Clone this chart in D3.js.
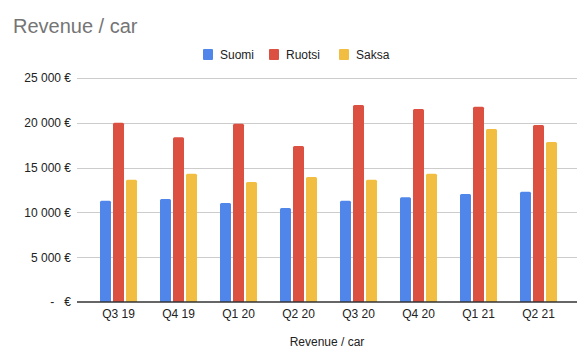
<!DOCTYPE html>
<html><head><meta charset="utf-8">
<script src="https://cdn.jsdelivr.net/npm/d3@7"></script>
<style>
html,body{margin:0;padding:0;background:#fff;}
svg{display:block;font-family:Arial,"Liberation Sans",sans-serif;}
</style></head>
<body><svg id="c" width="584" height="360"></svg>
<script>
const categories = ["Q3 19","Q4 19","Q1 20","Q2 20","Q3 20","Q4 20","Q1 21","Q2 21"];
const seriesNames = ["Suomi","Ruotsi","Saksa"];
const suomi  = [11300, 11500, 11050, 10500, 11300, 11700, 12050, 12300];
const ruotsi = [20000, 18400, 19900, 17400, 22000, 21550, 21800, 19750];
const saksa  = [13650, 14300, 13400, 13950, 13650, 14300, 19300, 17850];
const yTicks = [0, 5000, 10000, 15000, 20000, 25000];
const colors = ["#5086ea","#db5041","#f1be42"];
const title = "Revenue / car";
const xTitle = "Revenue / car";

const series = [suomi, ruotsi, saksa];
const svg = d3.select("#c");
const plotL = 77, plotR = 577, plotT = 78, plotB = 302;

const x = d3.scaleBand().domain(categories).range([88.5, 568.5]).paddingInner(23/60).paddingOuter(23/120);
const xs = d3.scaleBand().domain(seriesNames).range([0, x.bandwidth()]).paddingInner(2/13).paddingOuter(0);
const y = d3.scaleLinear().domain([0, 25000]).range([plotB, plotT]);

// title
svg.append("text").attr("x", 13).attr("y", 33).attr("fill", "#757575")
  .attr("font-size", 20).text(title);

// gridlines + y axis labels
const yAxis = d3.axisLeft(y).tickValues(yTicks).tickSize(0).tickPadding(6)
  .tickFormat(d => d === 0 ? "-\u00a0\u00a0\u00a0€" : d3.format(",")(d).replace(/,/g, "\u00a0") + "\u00a0€");
const ga = svg.append("g").attr("transform", `translate(${plotL},0)`).call(yAxis);
ga.select(".domain").remove();
ga.selectAll("text").attr("font-size", 12).attr("fill", "#222").attr("font-family", "Arial, 'Liberation Sans', sans-serif").attr("x", -6);

svg.append("g").selectAll("line").data(yTicks.filter(d => d > 0)).join("line")
  .attr("x1", plotL).attr("x2", plotR)
  .attr("y1", d => Math.round(y(d)) + 0.5).attr("y2", d => Math.round(y(d)) + 0.5)
  .attr("stroke", "#cccccc").attr("stroke-width", 1);

// bars
const groups = svg.append("g").selectAll("g").data(categories).join("g")
  .attr("transform", d => `translate(${x(d)},0)`);
groups.selectAll("path").data((c, i) => seriesNames.map((s, j) => ({s, j, v: series[j][i]}))).join("path")
  .attr("fill", d => colors[d.j])
  .attr("d", d => {
    const x0 = xs(d.s), w = xs.bandwidth(), y0 = y(d.v), yb = y(0), r = 1.5;
    return `M${x0},${yb}V${y0 + r}Q${x0},${y0} ${x0 + r},${y0}H${x0 + w - r}Q${x0 + w},${y0} ${x0 + w},${y0 + r}V${yb}Z`;
  });

// baseline
svg.append("line").attr("x1", plotL).attr("x2", plotR).attr("y1", plotB).attr("y2", plotB)
  .attr("stroke", "#333").attr("stroke-width", 1.3);

// x axis labels
const xAxis = d3.axisBottom(x).tickSize(0).tickPadding(0);
const gx = svg.append("g").attr("transform", `translate(0,${plotB})`).call(xAxis);
gx.select(".domain").remove();
gx.selectAll("text").attr("font-size", 12).attr("fill", "#222").attr("font-family", "Arial, 'Liberation Sans', sans-serif")
  .attr("dy", null).attr("y", 16);

// x title
svg.append("text").attr("x", (plotL + plotR) / 2).attr("y", 346).attr("text-anchor", "middle")
  .attr("font-size", 12).attr("fill", "#222").text(xTitle);

// legend
const legX = [203, 269, 339];
const lg = svg.append("g").selectAll("g").data(seriesNames).join("g")
  .attr("transform", (d, i) => `translate(${legX[i]},49)`);
lg.append("rect").attr("width", 10).attr("height", 11).attr("rx", 1).attr("fill", (d, i) => colors[i]);
lg.append("text").attr("x", 17).attr("y", 10).attr("font-size", 12).attr("fill", "#222").text(d => d);
</script></body></html>
